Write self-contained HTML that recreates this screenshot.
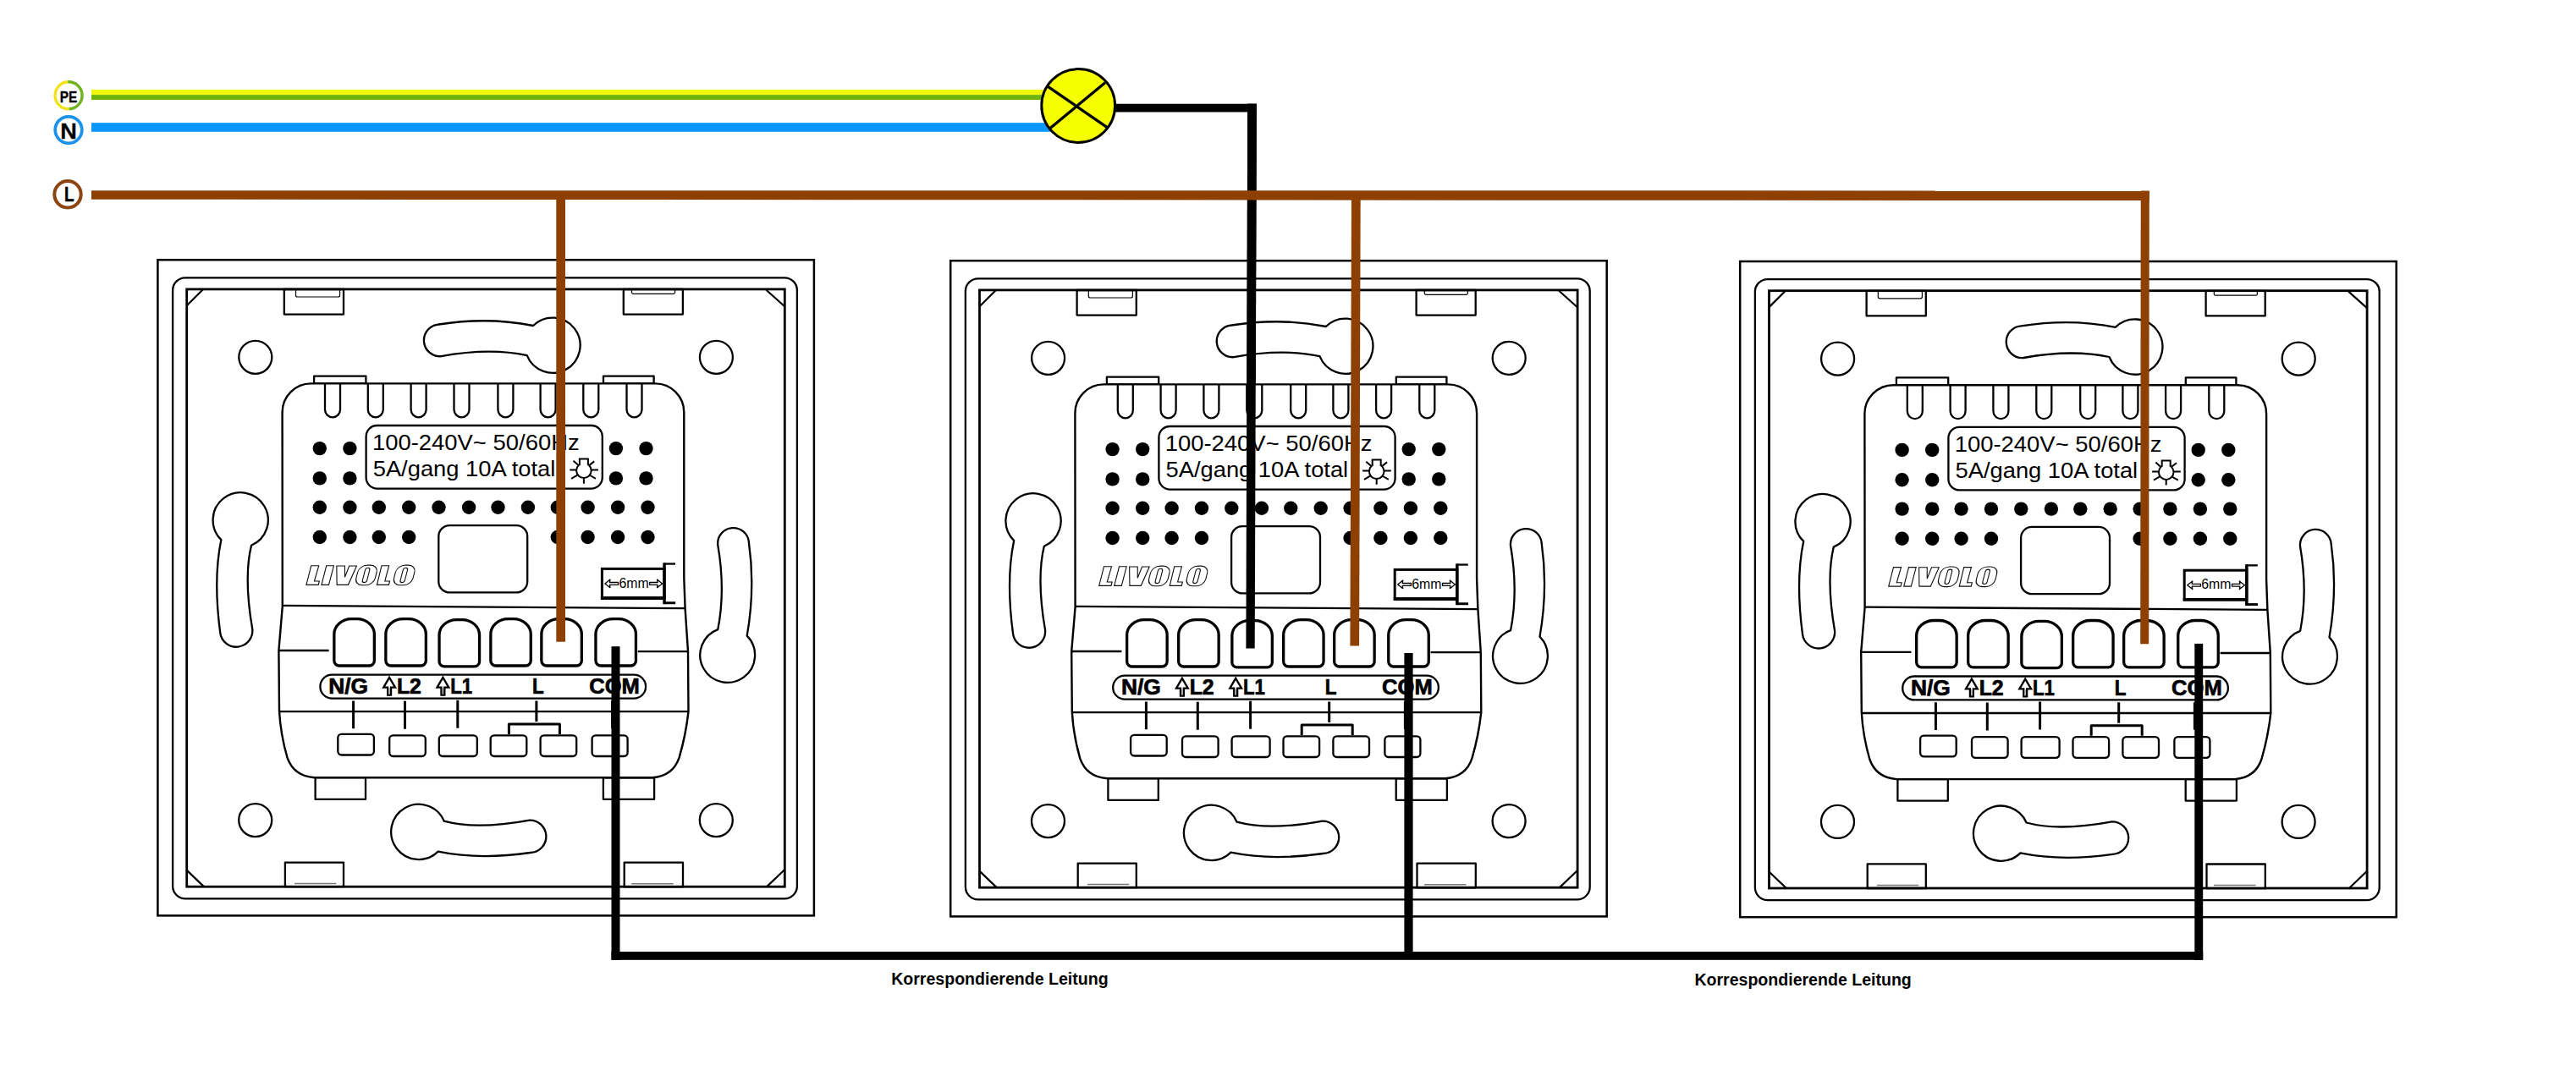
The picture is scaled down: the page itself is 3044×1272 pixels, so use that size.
<!DOCTYPE html>
<html><head><meta charset="utf-8"><title>Wiring</title>
<style>
html,body{margin:0;padding:0;background:#fff;}
body{width:3044px;height:1272px;overflow:hidden;}
svg{display:block;}
.t{font-family:"Liberation Sans",sans-serif;fill:#000;stroke:none;}
.b{font-family:"Liberation Sans",sans-serif;font-weight:bold;fill:#000;stroke:none;}
.bs{stroke:#000;stroke-width:0.7px;}
</style></head><body>
<svg width="3044" height="1272" viewBox="0 0 3044 1272">
<defs><g id="sw" fill="none" stroke="#000" stroke-linecap="butt" stroke-linejoin="round">
<rect x="186.4" y="307.2" width="775.5" height="775.2" stroke-width="2.5" stroke-linejoin="miter"/>
<rect x="204.1" y="328.3" width="737.8" height="734" rx="14.8" ry="14.8" stroke-width="2.3"/>
<rect x="220.7" y="341.9" width="706.6" height="706.3" stroke-width="2.8" stroke-linejoin="miter"/>
<path d="M220.7,361.3 L239.8,342.2 M905.4,342.8 L927.2,362.3 M220.9,1028.9 L240.9,1048.1 M927.5,1027.8 L905.9,1048.4" stroke-width="2.2"/>
<rect x="335.8" y="342" width="70.2" height="29.6" stroke-width="2.3"/>
<path d="M349.5,343 V349 Q349.5,351 351.5,351 H399.6 Q401.6,351 401.6,349 V343" stroke-width="1.2" stroke="#000"/>
<rect x="736.8" y="342" width="70.1" height="29.6" stroke-width="2.3"/>
<path d="M746.5,343 V345.6 Q746.5,347.4 748.3,347.4 H795.8 Q797.6,347.4 797.6,345.6 V343" stroke-width="1.2" stroke="#000"/>
<rect x="336.9" y="1019.6" width="69.1" height="28.6" stroke-width="2.3"/>
<path d="M348.1,1044.6 H397.4" stroke-width="1.5" stroke="#777"/>
<rect x="737.7" y="1019.7" width="69.3" height="28.6" stroke-width="2.3"/>
<path d="M746.2,1044.7 H795.7" stroke-width="1.5" stroke="#777"/>
<circle cx="301.8" cy="422.3" r="19.5" stroke-width="2.3"/>
<circle cx="846.4" cy="422.3" r="19.5" stroke-width="2.3"/>
<circle cx="301.7" cy="969.6" r="19.5" stroke-width="2.3"/>
<circle cx="846.3" cy="969.6" r="19.5" stroke-width="2.3"/>
<path d="M518.4,383.5 Q576.5,374.3 630.1,385 A32.6,32.6 0 1 1 622.7,420.2 Q578.8,410.7 521.3,421.2 A18.9,18.9 0 0 1 518.4,383.5 Z" stroke-width="2.3"/>
<path d="M524.8,970.7 Q563.2,981.2 625.7,969.6 A19.2,19.2 0 0 1 626.7,1008 Q566.2,1016.7 517.7,1006.6 A32.6,32.6 0 1 1 524.8,970.7 Z" stroke-width="2.3"/>
<path d="M297,644.8 Q287.8,683.2 298.2,743.4 A19,19 0 0 1 260.2,747.8 Q251.7,684.4 261.4,638.1 A32.6,32.6 0 1 1 297,644.8 Z" stroke-width="2.3"/>
<path d="M848.3,744.1 Q857.5,697.5 848.2,644 A18.4,18.4 0 0 1 884.9,641 Q892.6,695.3 882.7,751.6 A32.4,32.4 0 1 1 848.3,744.1 Z" stroke-width="2.3"/>
<rect x="371.1" y="444.6" width="61.3" height="8.8" stroke-width="2.3"/>
<rect x="713" y="444.6" width="59.6" height="8.8" stroke-width="2.3"/>
<rect x="372.6" y="919.2" width="59.4" height="25.7" stroke-width="2.3"/>
<rect x="712.9" y="919.3" width="60.2" height="25.5" stroke-width="2.3"/>
<path d="M333.6,487.4 A34,34 0 0 1 367.6,453.4 H774.3 A34,34 0 0 1 808.3,487.4 V683 L809.6,719 L813,770 L813.5,841 Q810.6,868 802.6,895.7 Q795.2,917.5 771,919.3 H371.5 Q347,917.5 339.5,895.7 Q331.5,868 330,840.5 L329.4,769 L333.8,716.7 Z" stroke-width="2.4" fill="#fff"/>
<path d="M333.8,715.9 L809.6,719.1 M330,841.2 H813.5 M329.4,769 H388.6 M753.8,770.2 H813" stroke-width="2.3"/>
<path d="M384.0,453.4 V484.3 A9,9 0 0 0 402.0,484.3 V453.4" stroke-width="2.3"/>
<path d="M434.8,453.4 V484.3 A9,9 0 0 0 452.8,484.3 V453.4" stroke-width="2.3"/>
<path d="M485.6,453.4 V484.3 A9,9 0 0 0 503.6,484.3 V453.4" stroke-width="2.3"/>
<path d="M536.5,453.4 V484.3 A9,9 0 0 0 554.5,484.3 V453.4" stroke-width="2.3"/>
<path d="M588.4,453.4 V484.3 A9,9 0 0 0 606.4,484.3 V453.4" stroke-width="2.3"/>
<path d="M638.6,453.4 V484.3 A9,9 0 0 0 656.6,484.3 V453.4" stroke-width="2.3"/>
<path d="M689.3,453.4 V484.3 A9,9 0 0 0 707.3,484.3 V453.4" stroke-width="2.3"/>
<path d="M740.5,453.4 V484.3 A9,9 0 0 0 758.5,484.3 V453.4" stroke-width="2.3"/>
<rect x="432.6" y="503" width="279.2" height="74.6" rx="13" ry="13" stroke-width="2.3"/>
<text x="439.9" y="532.4" font-size="26.6" textLength="244.8" lengthAdjust="spacingAndGlyphs" class="t">100-240V~ 50/60Hz</text>
<text x="440.7" y="563.4" font-size="25.2" textLength="215.7" lengthAdjust="spacingAndGlyphs" class="t">5A/gang 10A total</text>
<g stroke-width="2"><circle cx="689.9" cy="556.3" r="8.8"/><path d="M684.9,549.5 V542.6 H694.9 V549.5" fill="#fff" stroke-linejoin="miter"/><path d="M673.3,555.6 H681 M698.9,555.6 H707 M677.5,544.8 L683,549.6 M702.2,545.4 L696.8,549.6 M675.1,565.8 L682.3,561.6 M704,565.8 L697.4,562 M689.9,565 V571.8"/></g>
<g fill="#000" stroke="none"><circle cx="377.8" cy="530.1" r="8.2"/><circle cx="413.4" cy="530.1" r="8.2"/><circle cx="727.9" cy="530.1" r="8.2"/><circle cx="763.5" cy="530.1" r="8.2"/><circle cx="377.8" cy="565.4" r="8.2"/><circle cx="413.4" cy="565.4" r="8.2"/><circle cx="727.9" cy="565.4" r="8.2"/><circle cx="763.5" cy="565.4" r="8.2"/><circle cx="377.8" cy="599.8" r="8.2"/><circle cx="413.4" cy="599.8" r="8.2"/><circle cx="447.8" cy="599.8" r="8.2"/><circle cx="483.2" cy="599.8" r="8.2"/><circle cx="518.5" cy="599.8" r="8.2"/><circle cx="554.1" cy="599.8" r="8.2"/><circle cx="588.5" cy="599.8" r="8.2"/><circle cx="623.9" cy="599.8" r="8.2"/><circle cx="658.8" cy="599.8" r="8.2"/><circle cx="694.6" cy="599.8" r="8.2"/><circle cx="730.1" cy="599.8" r="8.2"/><circle cx="765.5" cy="599.8" r="8.2"/><circle cx="377.8" cy="635" r="8.2"/><circle cx="413.4" cy="635" r="8.2"/><circle cx="447.8" cy="635" r="8.2"/><circle cx="483.2" cy="635" r="8.2"/><circle cx="658.8" cy="635" r="8.2"/><circle cx="694.6" cy="635" r="8.2"/><circle cx="730.1" cy="635" r="8.2"/><circle cx="765.5" cy="635" r="8.2"/></g>
<rect x="518.3" y="621.1" width="104.9" height="79.3" rx="13" ry="13" stroke-width="2.3"/>
<g transform="translate(350,655) scale(0.06211)" stroke-width="18" stroke="#111" stroke-linejoin="miter"><path d="M285,222 L430,222 L345,515 L440,515 L422,585 L192,585 Z"/><path d="M575,222 L715,222 L620,585 L482,585 Z"/><path d="M770,225 L925,225 L925,440 L1010,225 L1150,225 L990,585 L775,585 Z"/><g transform="translate(0,585) skewX(-14.4) translate(0,-585)"><rect x="1108" y="212" width="362" height="380" rx="150" ry="135"/><rect x="1240" y="262" width="85" height="280" rx="42" ry="42"/><rect x="1828" y="212" width="362" height="380" rx="150" ry="135"/><rect x="1960" y="262" width="85" height="280" rx="42" ry="42"/></g><path d="M1625,222 L1765,222 L1687,515 L1780,515 L1762,585 L1537,585 Z"/></g>
<rect x="711.4" y="672.4" width="73.6" height="34.4" stroke-width="3" stroke-linejoin="miter"/>
<path d="M709.9,707.1 H785" stroke-width="3.6"/>
<path d="M785.05,665.4 V714.2" stroke-width="3.5"/>
<path d="M785,666.55 H798 " stroke-width="2.3"/>
<path d="M785,712.75 H798.2" stroke-width="2.9"/>
<text x="749.1" y="694.5" font-size="16" text-anchor="middle" textLength="35.2" lengthAdjust="spacingAndGlyphs" class="t">6mm</text>
<g stroke-width="1.3" fill="#fff" stroke-linejoin="round"><path d="M714.9,689.9 L721,685.1 L720.4,688.5 H730.6 V691.3 H720.4 L721,694.7 Z"/><path d="M782.6,689.9 L776.5,685.1 L777.1,688.5 H767.7 V691.3 H777.1 L776.5,694.7 Z"/></g>
<path d="M394.85,781.00 V749.70 A20.5,18 0 0 1 415.35,731.70 H421.85 A20.5,18 0 0 1 442.35,749.70 V781.00 A6,6 0 0 1 436.35,787.00 H400.85 A6,6 0 0 1 394.85,781.00 Z" stroke-width="3.3"/>
<path d="M455.85,781.00 V749.70 A20.5,18 0 0 1 476.35,731.70 H482.85 A20.5,18 0 0 1 503.35,749.70 V781.00 A6,6 0 0 1 497.35,787.00 H461.85 A6,6 0 0 1 455.85,781.00 Z" stroke-width="3.3"/>
<path d="M519.05,781.90 V750.60 A20.5,18 0 0 1 539.55,732.60 H546.05 A20.5,18 0 0 1 566.55,750.60 V781.90 A6,6 0 0 1 560.55,787.90 H525.05 A6,6 0 0 1 519.05,781.90 Z" stroke-width="3.3"/>
<path d="M579.85,781.00 V749.70 A20.5,18 0 0 1 600.35,731.70 H606.75 A20.5,18 0 0 1 627.25,749.70 V781.00 A6,6 0 0 1 621.25,787.00 H585.85 A6,6 0 0 1 579.85,781.00 Z" stroke-width="3.3"/>
<path d="M639.85,781.00 V749.70 A20.5,18 0 0 1 660.35,731.70 H666.85 A20.5,18 0 0 1 687.35,749.70 V781.00 A6,6 0 0 1 681.35,787.00 H645.85 A6,6 0 0 1 639.85,781.00 Z" stroke-width="3.3"/>
<path d="M703.95,781.00 V749.70 A20.5,18 0 0 1 724.45,731.70 H730.95 A20.5,18 0 0 1 751.45,749.70 V781.00 A6,6 0 0 1 745.45,787.00 H709.95 A6,6 0 0 1 703.95,781.00 Z" stroke-width="3.3"/>
<rect x="378.4" y="797.7" width="384.7" height="27.9" rx="13.95" ry="13.95" stroke-width="2.3"/>
<g stroke="#000" stroke-width="0.5" stroke-linejoin="round">
<text x="388.2" y="820.4" font-size="25.8" textLength="46.9" lengthAdjust="spacingAndGlyphs" class="b bs">N/G</text>
<text x="468.9" y="820.4" font-size="25.8" textLength="29.0" lengthAdjust="spacingAndGlyphs" class="b bs">L2</text>
<text x="532.2" y="820.4" font-size="25.8" textLength="25.9" lengthAdjust="spacingAndGlyphs" class="b bs">L1</text>
<text x="628.9" y="820.4" font-size="25.8" textLength="13.7" lengthAdjust="spacingAndGlyphs" class="b bs">L</text>
<text x="696.3" y="820.4" font-size="25.8" textLength="59.6" lengthAdjust="spacingAndGlyphs" class="b bs">COM</text>
</g>
<path d="M460.1,800.8 L467.0,812.6 H462.05 V821.6 H458.15000000000003 V812.6 H453.20000000000005 Z" stroke-width="2.3" fill="#fff" stroke-linejoin="miter"/>
<path d="M460.1,813.5 V820.5" stroke-width="1.2" stroke="#999"/>
<path d="M523.4,800.8 L530.3,812.6 H525.35 V821.6 H521.4499999999999 V812.6 H516.5 Z" stroke-width="2.3" fill="#fff" stroke-linejoin="miter"/>
<path d="M523.4,813.5 V820.5" stroke-width="1.2" stroke="#999"/>
<path d="M417.6,828.4 V861.3 M478.5,828.8 V861.7 M540.8,827.8 V860.7 M633.9,828.4 V852.9 M723.6,828.4 V861" stroke-width="3"/>
<path d="M601.4,868 V856 H661.4 V868" stroke-width="3"/>
<rect x="399.3" y="867.9" width="42.6" height="24.6" rx="4.2" ry="4.2" stroke-width="2.3" fill="#fff"/>
<rect x="460.2" y="869.4" width="42.6" height="24.6" rx="4.2" ry="4.2" stroke-width="2.3" fill="#fff"/>
<rect x="518.8" y="869.4" width="45.0" height="24.6" rx="4.2" ry="4.2" stroke-width="2.3" fill="#fff"/>
<rect x="579.7" y="869.4" width="42.6" height="24.6" rx="4.2" ry="4.2" stroke-width="2.3" fill="#fff"/>
<rect x="638.6" y="869.4" width="42.6" height="24.6" rx="4.2" ry="4.2" stroke-width="2.3" fill="#fff"/>
<rect x="699.6" y="869.4" width="42.0" height="24.6" rx="4.2" ry="4.2" stroke-width="2.3" fill="#fff"/>
</g></defs>
<rect x="0" y="0" width="3044" height="1272" fill="#fff"/>
<!-- black lamp wire (behind) -->
<path d="M1318,122.8 H1484.9 V132.6 H1318 Z" fill="#000"/>
<polygon points="1474.2,122.8 1484.9,122.8 1482.7,766.4 1472.4,766.4" fill="#000"/>
<use href="#sw"/>
<use href="#sw" transform="translate(936.8,1)"/>
<use href="#sw" transform="translate(1869.8,1.8)"/>
<!-- re-draw black lamp wire on top -->
<polygon points="1474.2,122.8 1484.9,122.8 1482.7,766.4 1472.4,766.4" fill="#000"/>
<!-- supply wires -->
<rect x="108" y="105.9" width="1126" height="6.2" fill="#EFF70C"/>
<rect x="108" y="112.1" width="1126" height="5.9" fill="#6FB40B"/>
<rect x="108" y="145.2" width="1134" height="10.6" fill="#0A96FF"/>
<!-- brown -->
<polygon points="108,225.2 2539.8,225.4 2539.8,237.1 108,235.7" fill="#8E4003"/>
<rect x="657.3" y="230" width="10.7" height="528.7" fill="#8E4003"/>
<polygon points="1597,230 1607.7,230 1606.1,763.4 1595.4,763.4" fill="#8E4003"/>
<polygon points="2529.7,225.5 2539.8,225.5 2539.2,761.3 2529.2,761.3" fill="#8E4003"/>
<!-- black COM wires -->
<rect x="722.5" y="764.2" width="10" height="370.6" fill="#000"/>
<rect x="1659.4" y="772" width="10.2" height="360" fill="#000"/>
<rect x="2593.3" y="760.9" width="9.9" height="374" fill="#000"/>
<rect x="722.5" y="1125" width="1880.7" height="9.8" fill="#000"/>
<!-- lamp -->
<circle cx="1274.2" cy="125" r="43.4" fill="#F5FF00" stroke="#000" stroke-width="3"/>
<path d="M1237.6,101.8 L1309.4,151.3 M1305.9,97.7 L1240.4,152" stroke="#000" stroke-width="3.3" fill="none"/>
<!-- labels -->
<g fill="none">
<path d="M80.3,96.8 A16,16 0 0 0 81.8,128.8" stroke="#F2E21C" stroke-width="3.4"/>
<path d="M80.3,96.8 A16,16 0 0 1 81.8,128.8" stroke="#6FB41C" stroke-width="3.4"/>
<circle cx="81" cy="153.6" r="15.8" stroke="#1C92EC" stroke-width="3.7"/>
<circle cx="80" cy="229.8" r="15.7" stroke="#8B4513" stroke-width="4"/>
</g>
<text x="80.9" y="121" font-size="17.5" text-anchor="middle" textLength="20.5" lengthAdjust="spacingAndGlyphs" class="b" style="stroke:#000;stroke-width:0.35px">PE</text>
<text x="81" y="163.7" font-size="25" text-anchor="middle" textLength="19.6" lengthAdjust="spacingAndGlyphs" class="b" style="stroke:#000;stroke-width:0.3px">N</text>
<text x="81.9" y="237.5" font-size="24" text-anchor="middle" textLength="11.6" lengthAdjust="spacingAndGlyphs" class="b" style="stroke:#000;stroke-width:0.5px">L</text>
<text x="1053.2" y="1164.4" font-size="20" textLength="256.4" lengthAdjust="spacingAndGlyphs" class="b">Korrespondierende Leitung</text>
<text x="2002.4" y="1164.9" font-size="20" textLength="256.4" lengthAdjust="spacingAndGlyphs" class="b">Korrespondierende Leitung</text>
</svg>
</body></html>
